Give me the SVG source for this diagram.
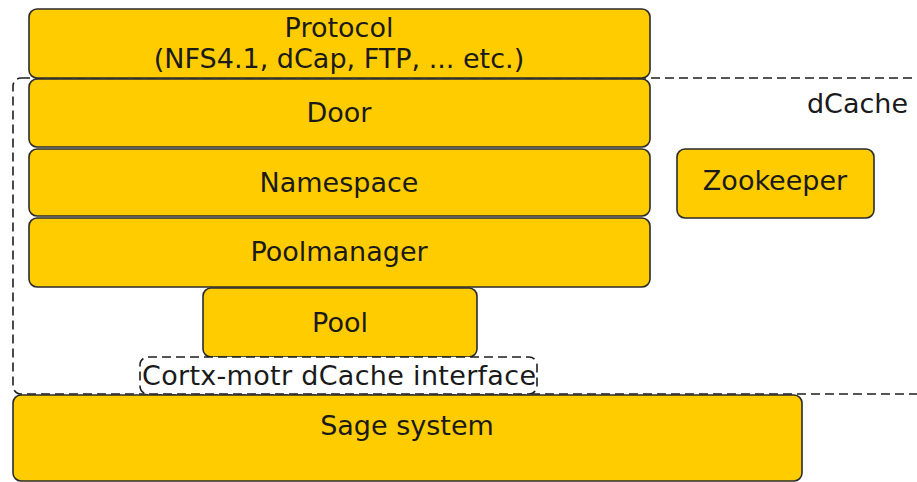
<svg xmlns="http://www.w3.org/2000/svg" width="917" height="482" viewBox="0 0 917 482">
<style>
.box{fill:#ffcc00;stroke:#2b2b2b;stroke-width:1.6}
.dash{fill:none;stroke:#1e1e1e;stroke-width:1.6;stroke-dasharray:9,5}
text{font-family:"DejaVu Sans",Verdana,sans-serif;font-size:27px;fill:#1a1a1a;text-anchor:middle}
</style>
<rect width="917" height="482" fill="#ffffff"/>
<g id="dcache">
<rect class="dash" x="13" y="78" width="960" height="316" rx="8"/>
<text x="908" y="113" style="text-anchor:end">dCache</text>
</g>
<g id="connectors"></g>
<g id="protocol">
<rect class="box" x="29" y="9" width="621" height="69" rx="8"/>
<text x="339" y="37">Protocol</text>
<text x="339" y="68">(NFS4.1, dCap, FTP, ... etc.)</text>
</g>
<g id="door">
<rect class="box" x="29" y="79" width="621" height="68" rx="8"/>
<text x="339" y="122">Door</text>
</g>
<g id="namespace">
<rect class="box" x="29" y="149" width="621" height="67" rx="8"/>
<text x="339" y="192">Namespace</text>
</g>
<g id="poolmanager">
<rect class="box" x="29" y="218" width="621" height="69" rx="8"/>
<text x="339" y="261">Poolmanager</text>
</g>
<g id="pool">
<rect class="box" x="203" y="288" width="274" height="69" rx="8"/>
<text x="340" y="332">Pool</text>
</g>
<g id="interface">
<rect class="dash" x="140" y="357" width="397" height="37" rx="8" style="fill:#ffffff"/>
<text x="339" y="385" textLength="394" lengthAdjust="spacing">Cortx-motr dCache interface</text>
</g>
<g id="zookeeper">
<rect class="box" x="677" y="149" width="197" height="69" rx="8"/>
<text x="775" y="190">Zookeeper</text>
</g>
<g id="sage">
<rect class="box" x="13" y="395" width="789" height="86" rx="8"/>
<text x="407" y="435">Sage system</text>
</g>
</svg>
